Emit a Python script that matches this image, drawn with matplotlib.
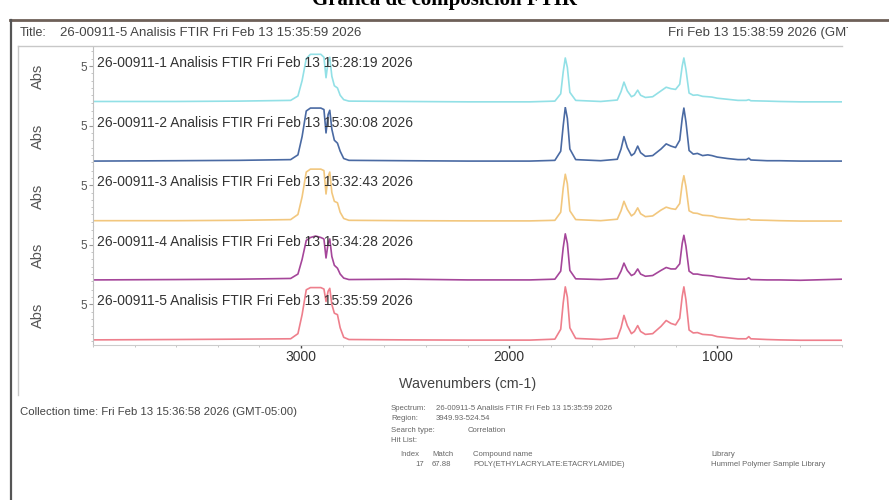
import matplotlib.pyplot as plt
import numpy as np
from matplotlib.ticker import FixedLocator

plt.rcParams['font.family'] = ['Liberation Sans', 'DejaVu Sans']

# wavenumber grid (cm-1), shared by all five spectra
wn = [4000, 3600, 3300, 3050, 3015, 2995, 2975, 2955, 2930, 2905, 2890, 2880, 2870, 2862,
      2852, 2840, 2825, 2812, 2795, 2770, 2500, 2200, 1900, 1780, 1752, 1740, 1730, 1720,
      1708, 1680, 1560, 1480, 1462, 1448, 1432, 1412, 1398, 1382, 1368, 1345, 1310, 1270,
      1245, 1222, 1200, 1180, 1168, 1160, 1150, 1135, 1115, 1095, 1070, 1045, 1025, 1000,
      950, 900, 860, 848, 838, 760, 700, 600, 400]

abs_1 = [0.15, 0.15, 0.2, 0.3, 0.9, 3.0, 6.0, 6.6, 6.6, 6.6, 6.2, 3.4, 5.6, 6.2,
         3.6, 2.3, 2.0, 1.0, 0.4, 0.2, 0.15, 0.1, 0.1, 0.2, 1.2, 4.2, 6.1, 4.8,
         1.4, 0.3, 0.15, 0.35, 1.5, 2.8, 1.6, 0.8, 1.0, 1.7, 1.0, 0.7, 0.8, 1.6,
         2.1, 1.9, 1.8, 2.5, 5.0, 6.1, 4.5, 1.3, 1.0, 1.05, 0.85, 0.8, 0.75, 0.6,
         0.45, 0.3, 0.3, 0.4, 0.25, 0.2, 0.15, 0.1, 0.1]
abs_2 = [0.15, 0.2, 0.25, 0.35, 1.0, 3.5, 7.0, 7.4, 7.4, 7.4, 7.2, 4.0, 6.5, 7.1,
         4.5, 3.0, 2.6, 1.5, 0.5, 0.25, 0.2, 0.15, 0.15, 0.25, 1.5, 5.0, 7.5, 6.0,
         1.8, 0.35, 0.2, 0.4, 1.8, 3.5, 2.0, 0.9, 1.2, 2.2, 1.3, 0.8, 0.9, 1.8,
         2.5, 2.2, 2.0, 3.0, 6.0, 7.4, 5.5, 1.6, 1.1, 1.2, 0.9, 1.0, 0.9, 0.7,
         0.5, 0.35, 0.35, 0.55, 0.3, 0.2, 0.2, 0.15, 0.15]
abs_3 = [0.15, 0.15, 0.2, 0.3, 1.0, 3.4, 6.8, 7.2, 7.2, 7.2, 7.0, 3.8, 6.2, 6.8,
         4.0, 2.8, 2.6, 1.3, 0.45, 0.2, 0.15, 0.12, 0.12, 0.2, 1.3, 4.6, 6.5, 5.2,
         1.5, 0.3, 0.15, 0.35, 1.5, 2.8, 1.7, 0.8, 1.1, 1.9, 1.1, 0.7, 0.8, 1.6,
         2.0, 1.8, 1.7, 2.5, 5.2, 6.3, 4.8, 1.5, 1.2, 1.15, 0.9, 0.85, 0.8, 0.6,
         0.45, 0.3, 0.3, 0.4, 0.25, 0.2, 0.15, 0.1, 0.1]
abs_4 = [0.2, 0.25, 0.3, 0.4, 1.0, 3.0, 5.6, 6.0, 6.2, 6.0, 5.8, 3.2, 5.2, 5.8,
         3.4, 2.2, 1.8, 1.0, 0.45, 0.25, 0.3, 0.2, 0.2, 0.3, 1.4, 4.6, 6.5, 5.2,
         1.5, 0.35, 0.25, 0.4, 1.4, 2.5, 1.5, 0.8, 1.0, 1.7, 1.0, 0.7, 0.8, 1.5,
         1.9, 1.7, 1.7, 2.4, 5.2, 6.3, 4.8, 1.4, 1.0, 1.0, 0.85, 0.8, 0.75, 0.6,
         0.45, 0.3, 0.3, 0.5, 0.25, 0.2, 0.2, 0.15, 0.3]
abs_5 = [0.15, 0.2, 0.25, 0.3, 1.0, 3.6, 7.0, 7.3, 7.3, 7.3, 7.1, 5.4, 6.8, 7.2,
         5.0, 3.8, 3.6, 1.8, 0.5, 0.2, 0.15, 0.12, 0.12, 0.25, 1.6, 5.2, 7.4, 6.0,
         1.8, 0.35, 0.2, 0.4, 1.8, 3.5, 2.1, 1.0, 1.3, 2.1, 1.3, 0.9, 1.0, 2.0,
         2.8, 2.4, 2.2, 3.1, 6.1, 7.4, 5.6, 1.5, 1.1, 1.15, 0.9, 0.85, 0.8, 0.6,
         0.45, 0.3, 0.3, 0.6, 0.3, 0.2, 0.15, 0.1, 0.1]

series = [abs_1, abs_2, abs_3, abs_4, abs_5]
labels = ['26-00911-1 Analisis FTIR Fri Feb 13 15:28:19 2026',
          '26-00911-2 Analisis FTIR Fri Feb 13 15:30:08 2026',
          '26-00911-3 Analisis FTIR Fri Feb 13 15:32:43 2026',
          '26-00911-4 Analisis FTIR Fri Feb 13 15:34:28 2026',
          '26-00911-5 Analisis FTIR Fri Feb 13 15:35:59 2026']
colors = ['#92e0e6', '#4a6aa3', '#f2c77e', '#a5469a', '#ee7f8c']
xticks = [3000, 2000, 1000]

W, H = 889, 500
fig = plt.figure(figsize=(W / 100, H / 100), dpi=100)

# background layer in pixel coords for the page decorations
bg = fig.add_axes([0, 0, 1, 1])
bg.set_xlim(0, W)
bg.set_ylim(H, 0)
bg.axis('off')
bg.plot([10, W], [20, 20], color='#6e6058', lw=2)
bg.plot([11, 11], [20, H], color='#555555', lw=1.6)
bg.plot([18, 842], [46, 46], color='#c8c8c8', lw=1)
bg.plot([18, 18], [46, 395], color='#c8c8c8', lw=1)

bg.text(445, 0, 'Gráfica de composición FTIR', ha='center', va='center',
        fontsize=15, fontweight='bold', family=['Liberation Serif', 'DejaVu Serif'])
bg.text(20, 33, 'Title:', fontsize=9, color='#444444', va='center')
bg.text(60, 33, '26-00911-5 Analisis FTIR Fri Feb 13 15:35:59 2026', fontsize=9.5,
        color='#444444', va='center')
bg.text(468, 384, 'Wavenumbers (cm-1)', ha='center', va='center', fontsize=10.3,
        color='#444444')
bg.text(20, 412, 'Collection time: Fri Feb 13 15:36:58 2026 (GMT-05:00)', fontsize=8.2,
        color='#444444', va='center')

# tiny search report block
small = dict(fontsize=5.6, color='#666666', va='center')
bg.text(391, 408, 'Spectrum:', **small)
bg.text(436, 408, '26-00911-5 Analisis FTIR Fri Feb 13 15:35:59 2026', **small)
bg.text(391, 418, 'Region:', **small)
bg.text(436, 418, '3949.93-524.54', **small)
bg.text(391, 430, 'Search type:', **small)
bg.text(468, 430, 'Correlation', **small)
bg.text(391, 441, 'Hit List:', **small)
bg.text(400, 454, 'Index', **small)
bg.text(432, 454, 'Match', **small)
bg.text(473, 454, 'Compound name', **small)
bg.text(711, 454, 'Library', **small)
bg.text(415, 464, '17', **small)
bg.text(432, 464, '67.88', **small)
bg.text(473, 464, 'POLY(ETHYLACRYLATE:ETACRYLAMIDE)', **small)
bg.text(711, 464, 'Hummel Polymer Sample Library', **small)

# right header text, cut at the page edge
cl = fig.add_axes([0, 0, 848 / W, 1])
cl.set_xlim(0, 848)
cl.set_ylim(H, 0)
cl.axis('off')
cl.text(668, 33, 'Fri Feb 13 15:38:59 2026 (GMT-05:00)', fontsize=9.5, color='#444444',
        va='center', clip_on=True)

left, right = 93, 842
top, ph = 47, 59.6
for i, (y, lab, c) in enumerate(zip(series, labels, colors)):
    t = top + ph * i
    ax = fig.add_axes([left / W, 1 - (t + ph) / H, (right - left) / W, ph / H])
    ax.plot(wn, y, color=c, lw=1.2)
    ax.set_xlim(4000, 400)
    ax.set_ylim(-0.55, 7.6)
    ax.patch.set_visible(False)
    for s in ['top', 'right']:
        ax.spines[s].set_visible(False)
    ax.spines['left'].set_color('#c0c0c0')
    ax.set_yticks([5])
    ax.set_yticklabels(['5'], fontsize=8.5, color='#555555')
    ax.yaxis.set_minor_locator(FixedLocator(np.arange(0, 8, 1.0)))
    ax.tick_params(axis='y', which='major', length=3, width=0.8, color='#999999', pad=1)
    ax.tick_params(axis='y', which='minor', length=1.5, width=0.6, color='#bbbbbb')
    ax.text(0.006, 0.73, lab, transform=ax.transAxes, fontsize=10, color='#333333',
            va='center')
    ax.text(-0.073, 0.5, 'Abs', transform=ax.transAxes, rotation=90, fontsize=10.5,
            color='#555555', ha='center', va='center')
    if i < 4:
        ax.spines['bottom'].set_visible(False)
        ax.set_xticks([])
    else:
        ax.spines['bottom'].set_color('#cccccc')
        ax.set_xticks(xticks)
        ax.set_xticklabels([str(v) for v in xticks], fontsize=10, color='#333333')
        ax.xaxis.set_minor_locator(FixedLocator(np.arange(400, 4001, 200)))
        ax.tick_params(axis='x', which='major', length=2, width=1, color='#444444', pad=1.5)
        ax.tick_params(axis='x', which='minor', length=1.5, width=0.6, color='#bbbbbb')

fig.savefig('out.png', dpi=100)
